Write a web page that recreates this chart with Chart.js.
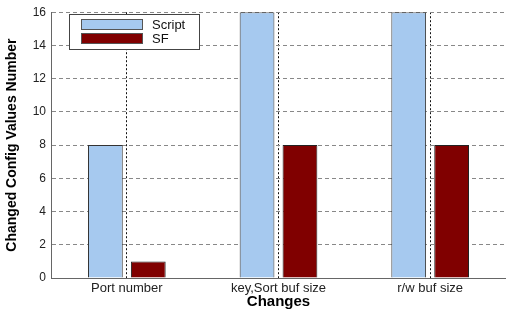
<!DOCTYPE html>
<html>
<head>
<meta charset="utf-8">
<script src="https://cdn.jsdelivr.net/npm/chart.js@4/dist/chart.umd.min.js"></script>
<style>
    html, body { margin: 0; padding: 0; background: #fff; }
    #wrap { width: 506px; height: 311px; }
</style>
</head>
<body>
<div id="wrap"><canvas id="myChart"></canvas></div>
<script>
const categories = ['Port number', 'key,Sort buf size', 'r/w buf size'];
const scriptValues = [8, 16, 16];
const sfValues = [1, 8, 8];
const yTicks = [0, 2, 4, 6, 8, 10, 12, 14, 16];

// legend box drawn inside the plot, top-left like the original
const boxLegend = {
    id: 'boxLegend',
    afterDraw(chart) {
        const ctx = chart.ctx;
        const x = 69, y = 14, w = 130, h = 35;
        ctx.save();
        ctx.fillStyle = '#fff';
        ctx.fillRect(x, y, w, h);
        ctx.strokeStyle = '#444';
        ctx.lineWidth = 1;
        ctx.strokeRect(x + 0.5, y + 0.5, w, h);
        ctx.font = '13px "Liberation Sans", Arial, sans-serif';
        ctx.textBaseline = 'middle';
        chart.data.datasets.forEach(function(ds, i) {
            const sy = y + 5 + i * 14;
            ctx.fillStyle = ds.backgroundColor;
            ctx.fillRect(81, sy, 62, 11);
            ctx.strokeStyle = '#555';
            ctx.strokeRect(81.5, sy + 0.5, 61, 10);
            ctx.fillStyle = '#111';
            ctx.fillText(ds.label, 152, sy + 6);
        });
        ctx.restore();
    }
};

const data = {
    labels: categories,
    datasets: [{
            label: 'Script',
            data: scriptValues,
            backgroundColor: '#a6c9ef',
            borderColor: '#333',
            borderWidth: 1
        },
        {
            label: 'SF',
            data: sfValues,
            backgroundColor: '#800000',
            borderColor: '#222',
            borderWidth: 1
        }
    ]
};

const config = {
    type: 'bar',
    data,
    plugins: [boxLegend],
    options: {
        responsive: true,
        maintainAspectRatio: false,
        animation: false,
        layout: { padding: { top: 7, right: 0, left: 0, bottom: 0 } },
        categoryPercentage: 0.566,
        barPercentage: 0.81,
        plugins: {
            legend: { display: false },
            tooltip: { enabled: false }
        },
        scales: {
            x: {
                afterFit(scale) { scale.height = 33; },
                grid: {
                    offset: false,
                    color: '#111',
                    lineWidth: 1,
                    drawTicks: false
                },
                border: { color: '#666', dash: [2, 2] },
                ticks: {
                    color: '#222',
                    padding: 3,
                    font: { family: '"Liberation Sans", Arial, sans-serif', size: 13 }
                },
                title: {
                    display: true,
                    text: 'Changes',
                    color: '#000',
                    padding: 0,
                    font: { family: '"Liberation Sans", Arial, sans-serif', size: 15, weight: 'bold' }
                }
            },
            y: {
                min: 0,
                max: 16,
                afterFit(scale) { scale.width = 51; },
                afterBuildTicks(scale) {
                    scale.ticks = yTicks.map(v => ({ value: v }));
                },
                grid: {
                    color: '#888',
                    lineWidth: 1,
                    drawTicks: false
                },
                border: { color: '#666', dash: [4, 3] },
                ticks: {
                    color: '#222',
                    padding: 5,
                    font: { family: '"Liberation Sans", Arial, sans-serif', size: 12 }
                },
                title: {
                    display: true,
                    text: 'Changed Config Values Number',
                    color: '#000',
                    padding: { top: 4, bottom: 0 },
                    font: { family: '"Liberation Sans", Arial, sans-serif', size: 14, weight: 'bold' }
                }
            }
        }
    }
};

var myChart = new Chart(document.getElementById('myChart'), config);
</script>
</body>
</html>
